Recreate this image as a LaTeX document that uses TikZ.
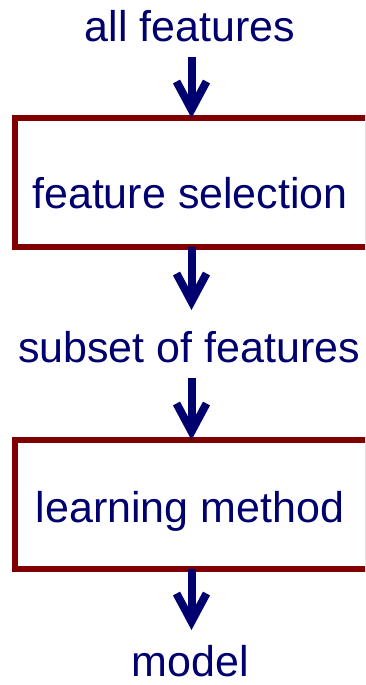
\documentclass[tikz,border=0pt]{standalone}
\usepackage{fontspec}
\setmainfont{Liberation Sans}
\usetikzlibrary{arrows.meta}
\definecolor{navy}{RGB}{0,0,110}
\definecolor{boxred}{RGB}{128,0,0}
\begin{document}
\begin{tikzpicture}[x=1pt,y=-1pt,
  lbl/.style={anchor=base, text=navy, font=\fontsize{43}{50}\selectfont, inner sep=0pt},
  procbox/.style={draw=boxred, line width=6pt, minimum width=353pt, minimum height=129pt, inner sep=0pt, outer sep=0pt},
  flow/.style={draw=navy, line width=8pt, -{Straight Barb[length=28pt,width=30pt,line width=8pt]}}]
\useasboundingbox (0,0) rectangle (365,685);
\clip (0,0) rectangle (365,685);
\fill[white] (0,0) rectangle (365,685);
% boxes
\node[procbox] (fs) at (191.5,182.5) {};
\node[procbox] (lm) at (191.5,504.5) {};
% texts
\node[lbl] (all) at (190,42) {all features};
\node[lbl] (fst) at (190,208) {feature selection};
\node[lbl] (sub) at (189,362) {subset of features};
\node[lbl] (lmt) at (190,522) {learning method};
\node[lbl] (mod) at (190.5,676) {model};
% arrow ends
\coordinate (a1) at (191.5,57);
\coordinate (a2) at (191.5,310);
\coordinate (a3) at (191.5,378);
\coordinate (a4) at (191.5,630);
\draw[flow] (a1) -- (fs.north);
\draw[flow] (fs.south) -- (a2);
\draw[flow] (a3) -- (lm.north);
\draw[flow] (lm.south) -- (a4);
\end{tikzpicture}
\end{document}
